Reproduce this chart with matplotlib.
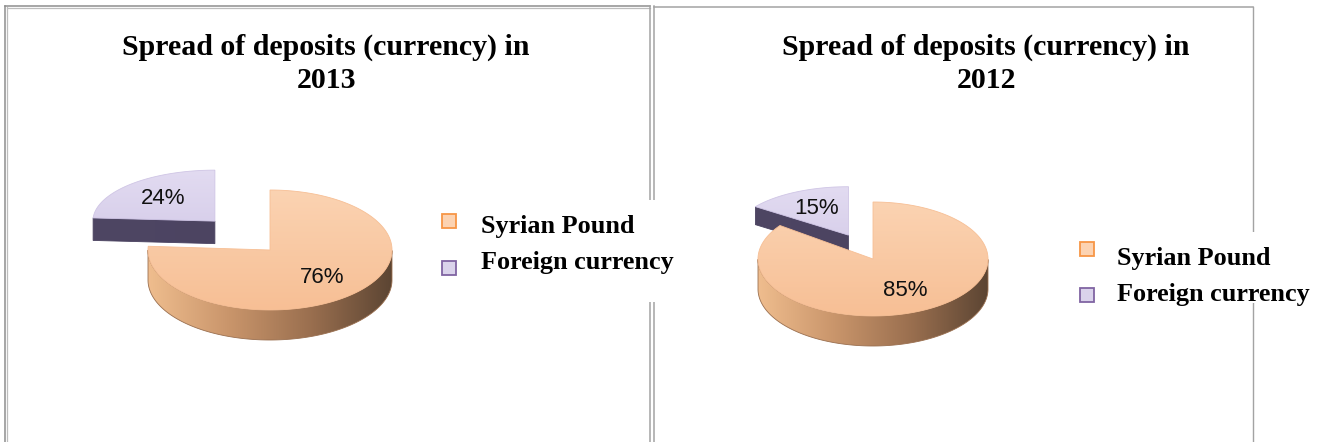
import numpy as np
import matplotlib
matplotlib.use('Agg')
import matplotlib.pyplot as plt
from matplotlib.patches import Polygon, Rectangle
from matplotlib.colors import LinearSegmentedColormap

# ---- data ----
categories = ['Syrian Pound', 'Foreign currency']
share_2013 = [76, 24]
share_2012 = [85, 15]
years = ['2013', '2012']
title_text = 'Spread of deposits (currency) in'

# ---- styles ----
top_colors = [['#FBD3B2', '#F7BF95'], ['#E2DBF1', '#CFC5E5']]
side_colors = [['#EFBD8E', '#C9956B', '#9A6F4F', '#5C4533'], ['#4E4663', '#4A4260']]
legend_face = ['#FCD3B2', '#DAD3EB']
legend_edge = ['#F79646', '#8064A2']
border = '#A3A3A3'

W, H = 1325, 442
fig = plt.figure(figsize=(13.25, 4.42), dpi=100)
ax = fig.add_axes([0, 0, 1, 1])
ax.set_xlim(0, W)
ax.set_ylim(H, 0)
ax.axis('off')


def grad_fill(verts, colors, direction, extent, zorder):
    poly = Polygon(verts, closed=True, facecolor='none', edgecolor='none')
    ax.add_patch(poly)
    cmap = LinearSegmentedColormap.from_list('g', colors)
    if direction == 'h':
        grad = np.linspace(0, 1, 256).reshape(1, -1)
    else:
        grad = np.linspace(0, 1, 256).reshape(-1, 1)
    im = ax.imshow(grad, cmap=cmap, extent=extent, origin='upper',
                   aspect='auto', zorder=zorder, interpolation='bilinear')
    im.set_clip_path(poly)
    # smooth edge
    ax.add_patch(Polygon(verts, closed=True, facecolor='none',
                         edgecolor=colors[len(colors) // 2], lw=0.6, zorder=zorder + 0.01))


def draw_pie(values, cx, cy, rx, ry, depth, explode, back_ry, back_depth, lab_r):
    total = float(sum(values))
    start = 90.0
    slices = []
    for i, v in enumerate(values):
        sweep = 360.0 * v / total
        a1, a2 = start - sweep, start
        start = a1
        e = explode[i]
        b = np.radians((a1 + a2) / 2)
        ry_s = ry * (back_ry if e > 0 else 1.0)
        d_s = depth * (back_depth if e > 0 else 1.0)
        vx = cx + e * rx * np.cos(b)
        vy = cy - e * ry * np.sin(b)
        slices.append((i, v, a1, a2, vx, vy, ry_s, d_s, b))
    slices.sort(key=lambda s: s[5])
    z = 2
    for (i, v, a1, a2, vx, vy, ry_s, d_s, b) in slices:
        def P(t, dz=0.0):
            return (vx + rx * np.cos(np.radians(t)), vy - ry_s * np.sin(np.radians(t)) + dz)
        ext_side = (vx - rx, vx + rx, vy + ry_s + d_s, vy - ry_s)
        # cut faces
        for ang, nrm in ((a1, a1 - 90), (a2, a2 + 90)):
            if np.sin(np.radians(nrm)) < -1e-6:
                verts = np.array([(vx, vy), P(ang), P(ang, d_s), (vx, vy + d_s)])
                grad_fill(verts, side_colors[i], 'h', ext_side, z)
        # outer front arc
        ts = np.linspace(a1, a2, 600)
        front = np.sin(np.radians(ts)) <= 0
        idx = np.where(front)[0]
        if len(idx) > 0:
            runs = np.split(idx, np.where(np.diff(idx) > 1)[0] + 1)
            for r in runs:
                tt = ts[r]
                topp = np.array([P(t) for t in tt])
                botp = np.array([P(t, d_s) for t in tt[::-1]])
                verts = np.vstack([topp, botp])
                grad_fill(verts, side_colors[i], 'h', ext_side, z)
        z += 0.1
        # top surface
        tt = np.linspace(a1, a2, 400)
        verts = np.vstack([[(vx, vy)], np.array([P(t) for t in tt])])
        grad_fill(verts, top_colors[i], 'v', (vx - rx, vx + rx, vy + ry_s, vy - ry_s), z)
        z += 0.1
        lx = vx + lab_r * rx * np.cos(b)
        ly = vy - lab_r * ry_s * np.sin(b)
        ax.text(lx, ly, f'{v}%', ha='center', va='center', fontsize=16,
                family='Liberation Sans', color='#111111', zorder=10)
        z += 0.2


# ---- borders ----
ax.plot([5, 5], [6, H], color='#8E8E8E', lw=1.1, zorder=1)
ax.plot([7, 7], [7, H], color='#BDBDBD', lw=0.9, zorder=1)
ax.plot([5, 650], [6, 6], color='#8E8E8E', lw=1.1, zorder=1)
ax.plot([7, 650], [7.8, 7.8], color='#BDBDBD', lw=0.9, zorder=1)
ax.plot([650, 650], [6, H], color=border, lw=1.1, zorder=1)
ax.plot([654, 654], [6, H], color=border, lw=1.1, zorder=1)
ax.plot([654, 1253], [6.5, 6.5], color=border, lw=1.1, zorder=1)
ax.plot([1253, 1253], [6.5, H], color=border, lw=1.0, zorder=1)

# ---- titles ----
for cx, yr in ((326, years[0]), (986, years[1])):
    ax.text(cx, 47, title_text, ha='center', va='center', fontsize=21.5,
            fontweight='bold', family='Liberation Serif', zorder=10)
    ax.text(cx, 80, yr, ha='center', va='center', fontsize=21.5,
            fontweight='bold', family='Liberation Serif', zorder=10)

# ---- pies ----
draw_pie(share_2013, 270, 250, 122, 60, 30, [0, 0.66], 0.85, 0.75, 0.62)
draw_pie(share_2012, 873, 259, 115, 57, 30, [0, 0.47], 0.85, 0.6, 0.62)

# ---- legends ----
legend_specs = [
    dict(box=(436, 200, 250, 102), sq_x=449, sq_y=[221, 268], tx=481, ty=[227, 263]),
    dict(box=(1068, 232, 257, 71), sq_x=1087, sq_y=[249, 295], tx=1117, ty=[259, 295]),
]
for spec in legend_specs:
    bx, by, bw, bh = spec['box']
    ax.add_patch(Rectangle((bx, by), bw, bh, facecolor='white', edgecolor='none', zorder=5))
    for k, name in enumerate(categories):
        s = 14
        ax.add_patch(Rectangle((spec['sq_x'] - s / 2, spec['sq_y'][k] - s / 2), s, s,
                               facecolor=legend_face[k], edgecolor=legend_edge[k],
                               lw=1.3, zorder=6))
        ax.text(spec['tx'], spec['ty'][k], name, ha='left', va='center', fontsize=18.8,
                fontweight='bold', family='Liberation Serif', zorder=7)

fig.savefig('out.png', dpi=100)
